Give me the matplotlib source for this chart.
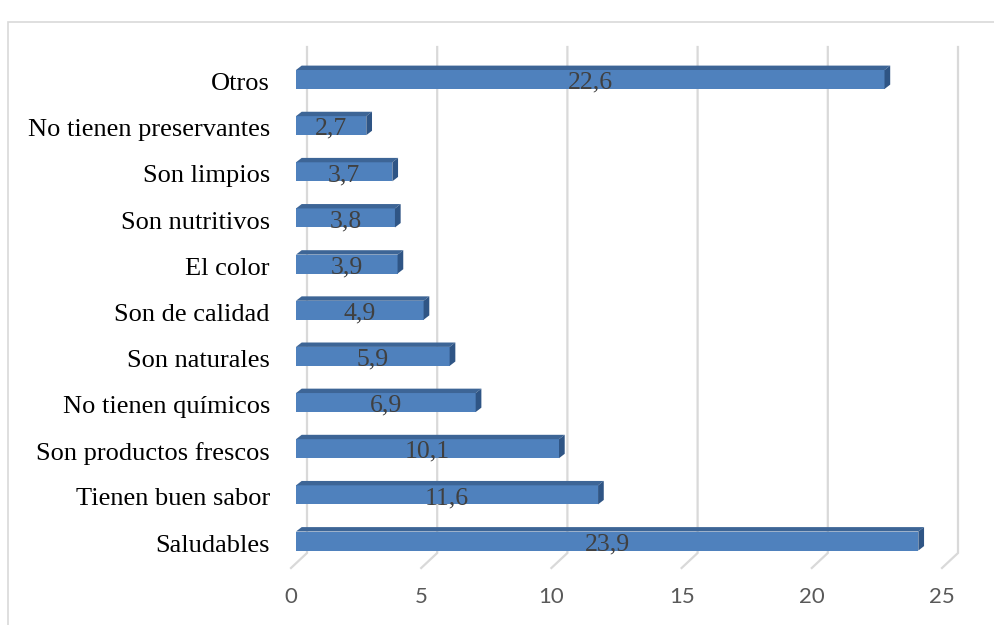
import numpy as np
import matplotlib.pyplot as plt
from matplotlib.patches import Polygon, Rectangle

# data (bottom to top)
categories = ['Saludables', 'Tienen buen sabor', 'Son productos frescos',
              'No tienen químicos', 'Son naturales', 'Son de calidad',
              'El color', 'Son nutritivos', 'Son limpios',
              'No tienen preservantes', 'Otros']
values = [23.9, 11.6, 10.1, 6.9, 5.9, 4.9, 3.9, 3.8, 3.7, 2.7, 22.6]
ticks = [0, 5, 10, 15, 20, 25]

W, H = 995, 625
px_per_unit = 26.04
px_per_cat = 46.15

fig = plt.figure(figsize=(W / 100, H / 100), dpi=100)
fig.patch.set_facecolor('white')

# axes: left at value 0 (front face of bars), ylim -0.5..10.5
left_px, y0_px = 296, 541
ax_w = 25 * px_per_unit
top_px = y0_px - px_per_cat * 10.5
bot_px = y0_px + px_per_cat * 0.5
ax = fig.add_axes([left_px / W, (H - bot_px) / H, ax_w / W, (bot_px - top_px) / H])
ax.set_xlim(0, 25)
ax.set_ylim(-0.5, 10.5)
ax.axis('off')

# 3d offsets in data units
wall_dx = 11 / px_per_unit      # back wall relative to bar front
floor_dx = -5 / px_per_unit     # front edge of floor
wall_top = (y0_px - 47) / px_per_cat
wall_bot = (y0_px - 553) / px_per_cat
floor_front = (y0_px - 568) / px_per_cat
grid_col = '#D9D9D9'

for t in ticks:
    ax.plot([t + wall_dx, t + wall_dx, t + floor_dx],
            [wall_top, wall_bot, floor_front],
            color=grid_col, lw=1.6, clip_on=False, zorder=1,
            solid_joinstyle='miter')
    ax.text(t + floor_dx, (y0_px - 597) / px_per_cat, str(t),
            ha='center', va='center', fontsize=16, color='#595959',
            family='Lato', clip_on=False)

# bars with a small 3d top and side face
h = 19 / px_per_cat
dx = 5.7 / px_per_unit
dy = 4.4 / px_per_cat
front_col = '#4F81BD'
top_col = '#3D6596'
side_col = '#2F5585'
y = np.arange(len(categories))
ax.barh(y, values, height=h, color=front_col, zorder=3)
for yi, v in zip(y, values):
    top = Polygon([(0, yi + h / 2), (dx, yi + h / 2 + dy),
                   (v + dx, yi + h / 2 + dy), (v, yi + h / 2)],
                  closed=True, facecolor=top_col, edgecolor='none', zorder=3)
    side = Polygon([(v, yi - h / 2), (v, yi + h / 2),
                    (v + dx, yi + h / 2 + dy), (v + dx, yi - h / 2 + dy)],
                   closed=True, facecolor=side_col, edgecolor='none', zorder=3)
    ax.add_patch(top)
    ax.add_patch(side)
    ax.text(v / 2, yi - 0.07, f'{v:.1f}'.replace('.', ','), ha='center',
            va='center', fontsize=18.5, color='#404040',
            family='Liberation Serif', zorder=4)

for yi, name in zip(y, categories):
    ax.text(-26 / px_per_unit, yi - 0.1, name, ha='right', va='center',
            fontsize=19, color='#000000', family='Liberation Serif',
            clip_on=False)

# chart area border (cropped at right and bottom)
fig.add_artist(Rectangle((8 / W, -0.1), 1.2, (H - 22) / H + 0.1,
                         transform=fig.transFigure, fill=False,
                         edgecolor='#D9D9D9', lw=1.2))

fig.savefig('out.png', dpi=100)
